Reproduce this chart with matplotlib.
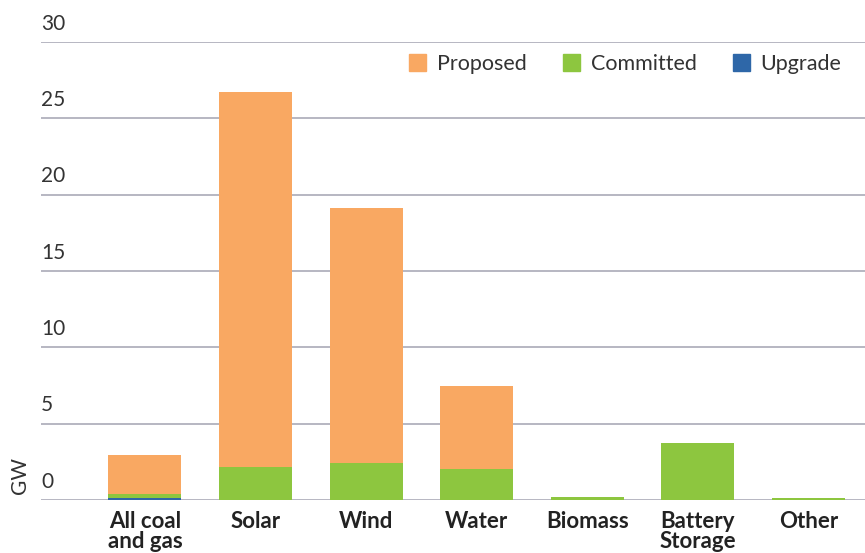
import matplotlib
matplotlib.use("Agg")
import matplotlib.pyplot as plt
import numpy as np

categories = ["All coal\nand gas", "Solar", "Wind", "Water", "Biomass", "Battery\nStorage", "Other"]
upgrade = [0.15, 0, 0, 0, 0, 0, 0]
committed = [0.25, 2.15, 2.42, 2.03, 0.2, 3.73, 0.1]
proposed = [2.55, 24.55, 16.7, 5.44, 0, 0, 0]
yticks = [0, 5, 10, 15, 20, 25, 30]

c_prop = "#F9A862"
c_comm = "#8DC63F"
c_upg = "#2E67A8"
grid_c = "#AAAAB8"

plt.rcParams['font.family'] = ['Lato', 'DejaVu Sans']

W, H = 865, 553
fig = plt.figure(figsize=(W/100, H/100), dpi=100)
ax = fig.add_axes([41/W, (H-500)/H, (W-41)/W, (500-42)/H])

x = np.arange(len(categories))
up = np.array(upgrade); cm = np.array(committed); pr = np.array(proposed)
bw = 0.66
ax.bar(x, up, bw, color=c_upg, zorder=3, label="Upgrade")
ax.bar(x, cm, bw, bottom=up, color=c_comm, zorder=3, label="Committed")
ax.bar(x, pr, bw, bottom=up+cm, color=c_prop, zorder=3, label="Proposed")

ax.set_xlim(-0.94, 6.51)
ax.set_ylim(0, 30)
for s in ax.spines.values():
    s.set_visible(False)
for t in yticks:
    ax.axhline(t, color=grid_c, lw=1.2, zorder=1)
    ax.text(0, t + 0.55, str(t), transform=ax.get_yaxis_transform(), ha='left', va='bottom',
            fontsize=15, color="#333333")
ax.set_yticks([])
ax.set_xticks(x)
ax.set_xticklabels(categories, fontsize=16, fontweight='bold', color="#222222", linespacing=0.95, va='top')
ax.tick_params(axis='x', length=0, pad=8)

fig.text(20/W, 1 - 475/H, "GW", rotation=90, ha='center', va='center', fontsize=15, color="#333333")

from matplotlib.patches import Patch
handles = [Patch(color=c_prop), Patch(color=c_comm), Patch(color=c_upg)]
leg = ax.legend(handles, ["Proposed", "Committed", "Upgrade"], ncol=3, loc='upper right',
                bbox_to_anchor=(0.995, 1.016), frameon=False, fontsize=15.5,
                handlelength=0.8, handleheight=0.8, handletextpad=0.5, columnspacing=1.67,
                labelcolor="#333333")

fig.savefig("out.png", dpi=100)
